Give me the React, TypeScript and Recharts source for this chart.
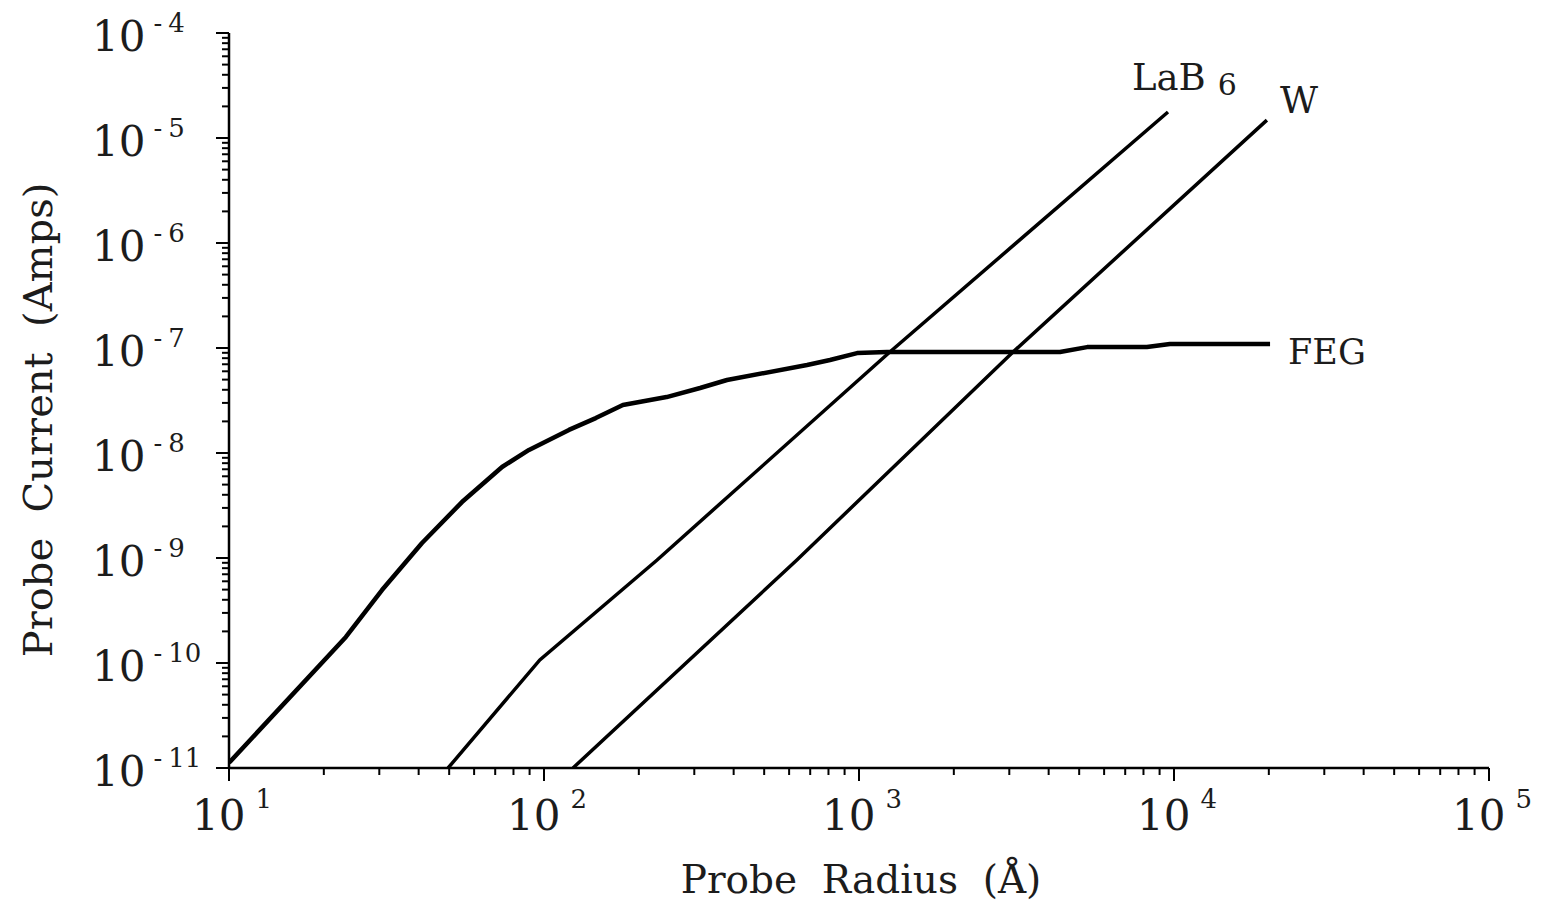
import React from 'react';
import { LineChart, Line, XAxis, YAxis, Label } from 'recharts';

// Probe radius (Å) and probe current (A)
const FEG_R = [10, 23.5, 30.6, 41.0, 54.9, 73.6, 89.6, 120, 146, 178, 245, 313, 381, 684, 809, 986, 1227, 4345, 5297, 8204, 9706, 20180];
const FEG_I = [1.12e-11, 1.77e-10, 4.95e-10, 1.39e-9, 3.41e-9, 7.36e-9, 1.07e-8, 1.66e-8, 2.15e-8, 2.86e-8, 3.41e-8, 4.16e-8, 4.96e-8, 6.89e-8, 7.69e-8, 8.95e-8, 9.16e-8, 9.16e-8, 1.02e-7, 1.02e-7, 1.09e-7, 1.09e-7];

const LAB_R = [49.6, 97, 228.6, 1253, 9570];
const LAB_I = [1e-11, 1.07e-10, 9.57e-10, 9.16e-8, 1.77e-5];

const W_R = [123.6, 635, 3083, 19720];
const W_I = [1e-11, 9.57e-10, 9.16e-8, 1.48e-5];

const X_EXPONENTS = [1, 2, 3, 4, 5];
const Y_EXPONENTS = [-11, -10, -9, -8, -7, -6, -5, -4];
const MINOR_MULTIPLIERS = [1, 2, 3, 4, 5, 6, 7, 8, 9];

const SERIES_LABELS = { lab: 'LaB', labSub: '6', w: 'W', feg: 'FEG' };
const X_TITLE = 'Probe  Radius  (Å)';
const Y_TITLE = 'Probe  Current  (Amps)';

const toPoints = (r: number[], i: number[]) => r.map((v, k) => ({ r: v, i: i[k] }));
const fegData = toPoints(FEG_R, FEG_I);
const labData = toPoints(LAB_R, LAB_I);
const wData = toPoints(W_R, W_I);

const buildTicks = (exps: number[]) => {
  const out: number[] = [];
  for (let k = 0; k < exps.length; k++) {
    const e = exps[k];
    if (k === exps.length - 1) {
      out.push(Math.pow(10, e));
    } else {
      for (const m of MINOR_MULTIPLIERS) out.push(m * Math.pow(10, e));
    }
  }
  return out;
};
const X_TICKS = buildTicks(X_EXPONENTS);
const Y_TICKS = buildTicks(Y_EXPONENTS);

const FONT = "'DejaVu Serif', 'Liberation Serif', serif";
const TEXT = '#1c1c1c';

const majorExp = (v: number) => {
  const l = Math.log10(v);
  const e = Math.round(l);
  return Math.abs(l - e) < 1e-6 ? e : null;
};

const XTick = (props: any) => {
  const { x, y, payload } = props;
  const e = majorExp(payload.value);
  const major = e !== null;
  return (
    <g>
      <line x1={x} x2={x} y1={y} y2={y + (major ? 13 : 7)} stroke="#000" strokeWidth={2} />
      {major && (
        <text x={x + 3} y={y + 62} textAnchor="middle" fontFamily={FONT} fontSize={42} fill={TEXT}>
          <tspan>10</tspan>
          <tspan dx={10} dy={-22} fontSize={26}>{e}</tspan>
        </text>
      )}
    </g>
  );
};

const YTick = (props: any) => {
  const { x, y, payload } = props;
  const e = majorExp(payload.value);
  const major = e !== null;
  return (
    <g>
      <line x1={x - (major ? 13 : 7)} x2={x} y1={y} y2={y} stroke="#000" strokeWidth={2} />
      {major && (
        <text x={x - 137} y={y + 18} textAnchor="start" fontFamily={FONT} fontSize={42} fill={TEXT}>
          <tspan>10</tspan>
          <tspan dx={8} dy={-19} fontSize={26}>-</tspan>
          <tspan dx={6} fontSize={26}>{Math.abs(e as number)}</tspan>
        </text>
      )}
    </g>
  );
};

const lastLabel = (len: number, render: (x: number, y: number) => React.ReactElement) => (p: any) =>
  p.index === len - 1 ? render(p.x, p.y) : <g />;

export default function App() {
  return (
    <LineChart
      width={1536}
      height={898}
      margin={{ top: 25, right: 55, left: 0, bottom: 0 }}
      style={{ background: '#fff' }}
    >
      <XAxis
        dataKey="r"
        type="number"
        scale="log"
        domain={[10, 100000]}
        ticks={X_TICKS}
        interval={0}
        tick={<XTick />}
        tickSize={0}
        tickMargin={0}
        tickLine={false}
        axisLine={{ stroke: '#000', strokeWidth: 2.5 }}
        height={138}
        allowDataOverflow
      >
        <Label
          content={(p: any) => {
            const vb = p.viewBox || { x: 221, y: 760, width: 1260 };
            return (
              <text
                x={vb.x + vb.width / 2 + 2}
                y={vb.y + 125}
                textAnchor="middle"
                fontFamily={FONT}
                fontSize={39}
                fill={TEXT}
                xmlSpace="preserve"
              >
                {X_TITLE}
              </text>
            );
          }}
        />
      </XAxis>
      <XAxis
        xAxisId="top"
        orientation="top"
        dataKey="r"
        type="number"
        scale="log"
        domain={[10, 100000]}
        tick={false}
        tickLine={false}
        axisLine={{ stroke: '#000', strokeWidth: 2.5 }}
        height={0}
        allowDataOverflow
      />
      <YAxis
        dataKey="i"
        type="number"
        scale="log"
        domain={[1e-11, 1e-4]}
        ticks={Y_TICKS}
        interval={0}
        tick={<YTick />}
        tickSize={0}
        tickMargin={0}
        tickLine={false}
        axisLine={{ stroke: '#000', strokeWidth: 2.5 }}
        width={221}
        allowDataOverflow
      >
        <Label
          content={() => (
            <text
              x={44}
              y={412}
              transform="rotate(-90, 44, 412)"
              textAnchor="middle"
              fontFamily={FONT}
              fontSize={40}
              fill={TEXT}
              xmlSpace="preserve"
            >
              {Y_TITLE}
            </text>
          )}
        />
      </YAxis>
      <YAxis
        yAxisId="right"
        orientation="right"
        dataKey="i"
        type="number"
        scale="log"
        domain={[1e-11, 1e-4]}
        tick={false}
        tickLine={false}
        axisLine={{ stroke: '#000', strokeWidth: 2.5 }}
        width={0}
        allowDataOverflow
      />
      <Line
        data={fegData}
        dataKey="i"
        type="linear"
        stroke="#000"
        strokeWidth={4.5}
        strokeLinejoin="round"
        dot={false}
        isAnimationActive={false}
        label={lastLabel(fegData.length, (x, y) => (
          <text x={x + 18} y={y + 20} fontFamily={FONT} fontSize={35} fill={TEXT}>
            {SERIES_LABELS.feg}
          </text>
        ))}
      />
      <Line
        data={labData}
        dataKey="i"
        type="linear"
        stroke="#000"
        strokeWidth={3.5}
        dot={false}
        isAnimationActive={false}
        label={lastLabel(labData.length, (x, y) => (
          <text x={x - 36} y={y - 22} fontFamily={FONT} fontSize={37} fill={TEXT}>
            <tspan>{SERIES_LABELS.lab}</tspan>
            <tspan dx={12} dy={5} fontSize={30}>{SERIES_LABELS.labSub}</tspan>
          </text>
        ))}
      />
      <Line
        data={wData}
        dataKey="i"
        type="linear"
        stroke="#000"
        strokeWidth={3.5}
        dot={false}
        isAnimationActive={false}
        label={lastLabel(wData.length, (x, y) => (
          <text x={x + 13} y={y - 7} fontFamily={FONT} fontSize={37} fill={TEXT}>
            {SERIES_LABELS.w}
          </text>
        ))}
      />
    </LineChart>
  );
}
